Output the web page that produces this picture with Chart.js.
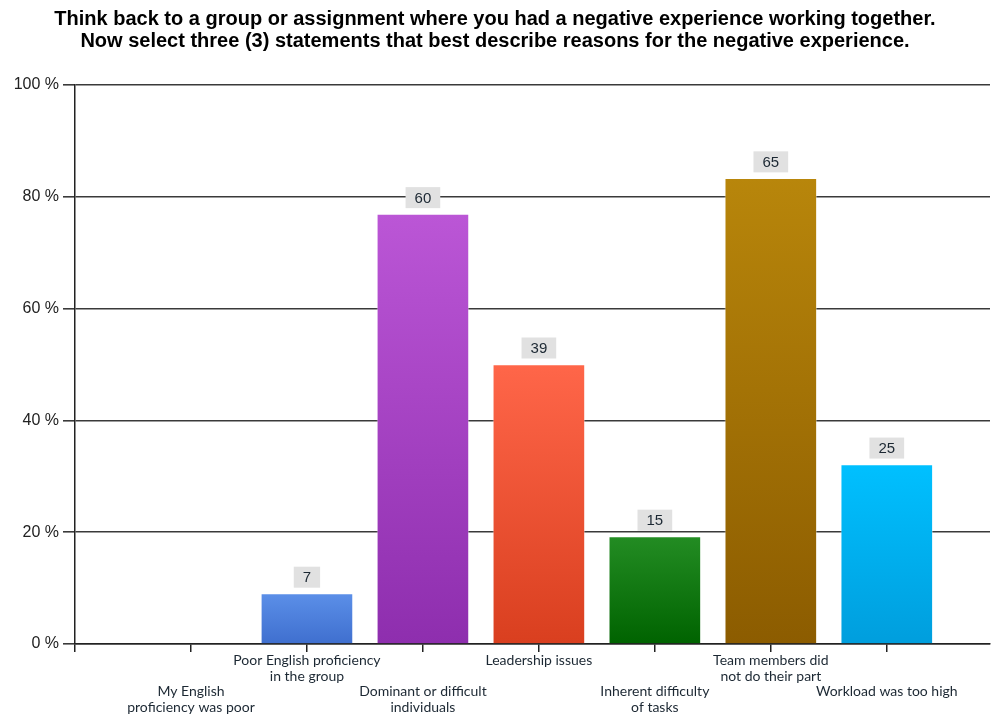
<!DOCTYPE html>
<html>
<head>
<meta charset="utf-8">
<script src="https://cdn.jsdelivr.net/npm/chart.js@4.4.1/dist/chart.umd.min.js"></script>
<style>
  html, body { margin: 0; padding: 0; background: #fff; }
  #wrap { width: 994px; height: 715px; }
</style>
</head>
<body>
<div id="wrap"><canvas id="chart" width="994" height="715"></canvas></div>
<script>
// Chart data
const titleLines = [
    'Think back to a group or assignment where you had a negative experience working together.',
    'Now select three (3) statements that best describe reasons for the negative experience.'
];
const categories = [
    ['My English', 'proficiency was poor'],
    ['Poor English proficiency', 'in the group'],
    ['Dominant or difficult', 'individuals'],
    ['Leadership issues'],
    ['Inherent difficulty', 'of tasks'],
    ['Team members did', 'not do their part'],
    ['Workload was too high']
];
const percents = [0, 9.0, 76.9, 50.0, 19.2, 83.3, 32.1];
const counts = [0, 7, 60, 39, 15, 65, 25];
const yTicks = [0, 20, 40, 60, 80, 100];

// bar colours: light at top, dark at base
const topColors = ['#5b8fe8', '#5b8fe8', '#bb56d6', '#ff6649', '#238c23', '#b8860b', '#00c0ff'];
const baseColors = ['#3f6fcf', '#3f6fcf', '#8e2eae', '#d93f1f', '#006300', '#8c5c00', '#009edd'];

const FONT = 'Liberation Sans, Arial, sans-serif';

function barGradient(c) {
    const i = c.dataIndex;
    const chart = c.chart;
    if (!chart.chartArea || !chart.scales.y) return baseColors[i];
    const y = chart.scales.y;
    const top = y.getPixelForValue(percents[i]);
    const bottom = y.getPixelForValue(0);
    if (bottom - top < 1) return baseColors[i];
    const g = chart.ctx.createLinearGradient(0, top, 0, bottom);
    g.addColorStop(0, topColors[i]);
    g.addColorStop(1, baseColors[i]);
    return g;
}

// count boxes above the bars
const countLabels = {
    id: 'countLabels',
    afterDatasetsDraw(chart) {
        const ctx = chart.ctx;
        const meta = chart.getDatasetMeta(0);
        ctx.save();
        ctx.font = '15px ' + FONT;
        ctx.textAlign = 'center';
        ctx.textBaseline = 'middle';
        meta.data.forEach((bar, i) => {
            if (!counts[i]) return;
            const txt = String(counts[i]);
            const w = ctx.measureText(txt).width + 18;
            const h = 21;
            const bottom = bar.y - 6;
            ctx.fillStyle = '#e1e1e1';
            ctx.fillRect(bar.x - w / 2, bottom - h, w, h);
            ctx.fillStyle = '#1c2833';
            ctx.fillText(txt, bar.x, bottom - h / 2 + 1);
        });
        ctx.restore();
    }
};

// stagger the category labels on two rows
function tickLabel(v) {
    const i = Math.round(v) - 1;
    if (i < 0 || i >= categories.length) return '';
    return i % 2 === 1 ? categories[i] : ['', ''].concat(categories[i]);
}

new Chart(document.getElementById('chart'), {
    type: 'bar',
    data: {
        datasets: [{
            data: percents.map((p, i) => ({ x: i + 1, y: p })),
            backgroundColor: barGradient,
            borderColor: 'rgba(255,255,255,0.35)',
            borderWidth: 1,
            barThickness: 92
        }]
    },
    plugins: [countLabels],
    options: {
        responsive: false,
        animation: false,
        layout: { padding: { left: 0, right: 4, top: 0, bottom: 0 } },
        plugins: {
            legend: { display: false },
            tooltip: { enabled: false },
            title: {
                display: true,
                text: titleLines,
                color: '#000',
                font: { family: FONT, size: 20, weight: 'bold', lineHeight: 1.1 },
                padding: { top: 8, bottom: 33 }
            }
        },
        scales: {
            x: {
                type: 'linear',
                offset: false,
                min: 0,
                max: 7.89,
                afterBuildTicks: (s) => { s.ticks = [0, 1, 2, 3, 4, 5, 6, 7].map(v => ({ value: v })); },
                afterFit: (s) => { s.height = 71; },
                border: { display: true, color: '#222', width: 1.5 },
                grid: { offset: false, drawOnChartArea: false, drawTicks: true, tickLength: 8, color: '#222', lineWidth: 1.5 },
                ticks: {
                    autoSkip: false,
                    maxRotation: 0,
                    padding: 1,
                    color: '#1c2833',
                    font: { family: 'Lato, sans-serif', size: 14, lineHeight: '15.5px' },
                    callback: tickLabel
                }
            },
            y: {
                min: 0,
                max: 100,
                afterBuildTicks: (s) => { s.ticks = yTicks.map(v => ({ value: v })); },
                afterFit: (s) => { s.width = 75; },
                border: { display: true, color: '#222', width: 1.5 },
                grid: { color: '#3a3a3a', lineWidth: 1.6, tickLength: 12 },
                ticks: {
                    padding: 4,
                    color: '#222',
                    font: { family: FONT, size: 16 },
                    callback: (v) => v + ' %'
                }
            }
        }
    }
});
</script>
</body>
</html>
